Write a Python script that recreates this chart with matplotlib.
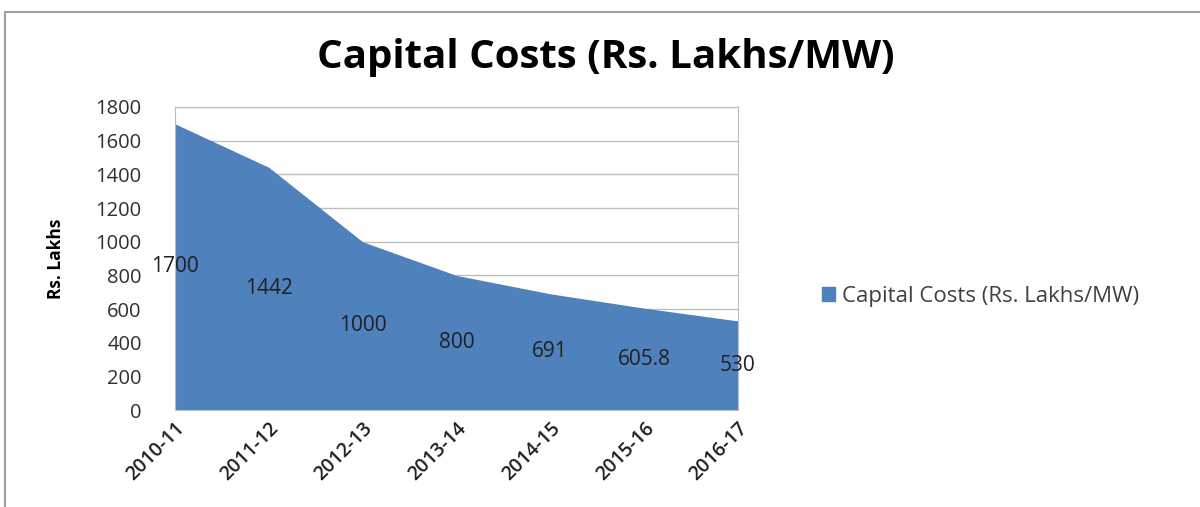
import matplotlib
matplotlib.use("Agg")
import matplotlib.pyplot as plt
from matplotlib.patches import Patch, Rectangle

years = ["2010-11", "2011-12", "2012-13", "2013-14", "2014-15", "2015-16", "2016-17"]
costs = [1700, 1442, 1000, 800, 691, 605.8, 530]
cost_labels = ["1700", "1442", "1000", "800", "691", "605.8", "530"]
yticks = [0, 200, 400, 600, 800, 1000, 1200, 1400, 1600, 1800]

BLUE = "#4F81BD"

plt.rcParams["font.family"] = ["Open Sans", "DejaVu Sans"]

fig = plt.figure(figsize=(12, 5.07), dpi=100)
# outer chart border
fig.patches.append(Rectangle((0.004, -0.1), 1.2, 1.076, transform=fig.transFigure,
                             fill=False, edgecolor="#a0a0a0", linewidth=1.5))

ax = fig.add_axes([0.1458, 0.191, 0.469, 0.598])
x = list(range(len(years)))
ax.fill_between(x, costs, 0, color=BLUE, linewidth=0, zorder=2)

ax.set_xlim(0, len(years) - 1)
ax.set_ylim(0, 1800)
ax.set_yticks(yticks)
ax.set_yticklabels([str(v) for v in yticks], fontsize=14.5, color="#303030")
ax.yaxis.grid(True, color="#bfbfbf", linewidth=1, zorder=1)
ax.set_axisbelow(True)
ax.tick_params(axis="y", length=0, pad=24)
ax.tick_params(axis="x", length=0, pad=6)

ax.set_xticks(x)
ax.set_xticklabels(years, rotation=45, ha="right", rotation_mode="anchor",
                   fontsize=14, color="#202020", fontweight="semibold")

for s in ax.spines.values():
    s.set_color("#bfbfbf")

for xi, v, lab in zip(x, costs, cost_labels):
    ax.text(xi, v / 2, lab, ha="center", va="center", fontsize=15, color="#202020", zorder=3)

ax.set_ylabel("Rs. Lakhs", fontsize=12.5, fontweight="bold")
ax.yaxis.set_label_coords(-0.195, 0.5)
fig.suptitle("Capital Costs (Rs. Lakhs/MW)", x=0.505, y=0.925, fontsize=29, fontweight="bold")

fig.legend(handles=[Patch(color=BLUE, label="Capital Costs (Rs. Lakhs/MW)")],
           loc="center left", bbox_to_anchor=(0.668, 0.415), frameon=False,
           fontsize=16, handlelength=0.6, handleheight=0.6, handletextpad=0.3,
           labelcolor="#404040")

fig.savefig("out.png", dpi=100)
